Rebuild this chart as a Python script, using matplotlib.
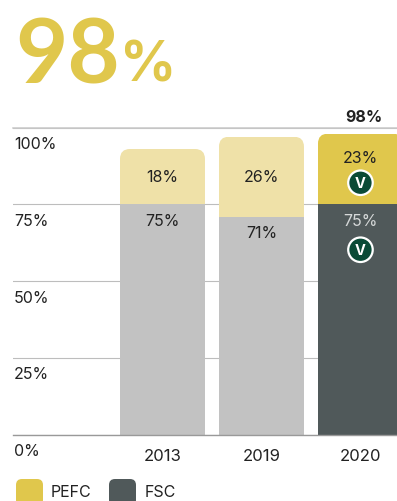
import matplotlib
matplotlib.use("Agg")
import matplotlib.pyplot as plt
from matplotlib.patches import FancyBboxPatch
from matplotlib.transforms import ScaledTranslation

plt.rcParams['font.family'] = ['Inter', 'DejaVu Sans']

# Daten
years = ['2013', '2019', '2020']
fsc = [75, 71, 75]
pefc = [18, 26, 23]
total_label = '98%'
yticks = [0, 25, 50, 75, 100]
yticklabels = ['0%', '25%', '50%', '75%', '100%']

GOLD = '#E0C74C'
GOLD_LIGHT = '#EFE1A8'
GREY_LIGHT = '#C2C2C2'
GREY_DARK = '#50595A'
BADGE = '#0A4A36'
TEXT = '#222222'

W, H = 397, 502
fig = plt.figure(figsize=(W / 100, H / 100), dpi=100)

# Achse: links 13 px, Oberkante 128 px, Grundlinie 435 px
ax = fig.add_axes([13 / W, (H - 435.5) / H, (W - 13) / W, 307 / H])
ax.set_xlim(-1.51, 2.369)
ax.set_ylim(0, 100)
for s in ['left', 'right']:
    ax.spines[s].set_visible(False)
ax.spines['top'].set_color('#C8C8C8')
ax.spines['top'].set_linewidth(1.1)
ax.spines['bottom'].set_color('#999999')
ax.spines['bottom'].set_linewidth(1.0)
ax.set_axisbelow(True)
ax.grid(axis='y', color='#BDBDBD', linewidth=0.8)
ax.set_yticks(yticks)
ax.set_yticklabels(yticklabels, ha='left', fontsize=11.5, color=TEXT)
ax.tick_params(axis='y', length=0, pad=-0.6)
ax.set_xticks(range(len(years)))
ax.set_xticklabels(years, fontsize=12, color=TEXT)
ax.tick_params(axis='x', length=0, pad=9.5)

# y-Beschriftung unter die Gitterlinien schieben
shift = ScaledTranslation(0, -14.7 / 100, fig.dpi_scale_trans)
for lbl in ax.get_yticklabels():
    lbl.set_transform(lbl.get_transform() + shift)

bar_w = 85 / 99
fsc_colors = [GREY_LIGHT, GREY_LIGHT, GREY_DARK]
pefc_colors = [GOLD_LIGHT, GOLD_LIGHT, GOLD]
fsc_bars = ax.bar(range(3), fsc, bar_w, color=fsc_colors, zorder=2)
pefc_bars = ax.bar(range(3), pefc, bar_w, bottom=fsc, color=pefc_colors, zorder=2)

# obere Ecken runden (10 px Radius)
rx = 10 / 99
ry = 10 / 3.07
for bar in pefc_bars:
    x0 = bar.get_x()
    y0 = bar.get_y() - 20
    clip = FancyBboxPatch((x0 + rx, y0 + ry), bar.get_width() - 2 * rx,
                          bar.get_height() + 20 - 2 * ry,
                          boxstyle=f'round,pad={rx},rounding_size={rx}',
                          mutation_aspect=ry / rx, transform=ax.transData)
    bar.set_clip_path(clip)


def label(x, y, text, dy=0, dx=0, color=TEXT, size=11.5, **kw):
    ax.annotate(text, (x, y), xytext=(dx, dy), textcoords='offset pixels',
                ha='center', va='center', fontsize=size, color=color,
                annotation_clip=False, zorder=4, **kw)


def badge(x, y, dy):
    ax.annotate('V', (x, y), xytext=(0, dy), textcoords='offset pixels',
                ha='center', va='center_baseline', fontsize=10.5, color='white',
                fontweight='bold', zorder=6,
                bbox=dict(boxstyle='circle,pad=0.36', fc=BADGE, ec='white', lw=1.6))


for i in range(3):
    label(i, fsc[i], f'{fsc[i]}%', dy=-16, color='#D5D8D8' if i == 2 else TEXT)
    if i < 2:
        label(i, fsc[i] + pefc[i] / 2, f'{pefc[i]}%')
label(2, fsc[2] + pefc[2], f'{pefc[2]}%', dy=-24)
badge(2, fsc[2], 23)
badge(2, fsc[2], -44)
label(2, 100, total_label, dy=11, dx=3, fontweight='bold')

# Titel
fig.text(15 / W, 1 - 83 / H, '98', fontsize=65, color=GOLD, fontweight='bold',
         family='Lato', ha='left', va='baseline')
fig.text(120 / W, 1 - 82 / H, '%', fontsize=40, color=GOLD, fontweight='bold',
         ha='left', va='baseline')

# Legende
for x, col, name, tx in [(16, GOLD, 'PEFC', 51), (109, GREY_DARK, 'FSC', 145)]:
    sw = FancyBboxPatch(((x + 6) / W, 1 - 501 / H), 15 / W, 15 / H,
                        boxstyle=f'round,pad={6 / W},rounding_size={6 / W}',
                        mutation_aspect=W / H, transform=fig.transFigure,
                        fc=col, ec='none')
    fig.add_artist(sw)
    fig.text(tx / W, 1 - 493 / H, name, fontsize=11.5, color=TEXT, ha='left', va='center')

fig.savefig('out.png', dpi=100)
